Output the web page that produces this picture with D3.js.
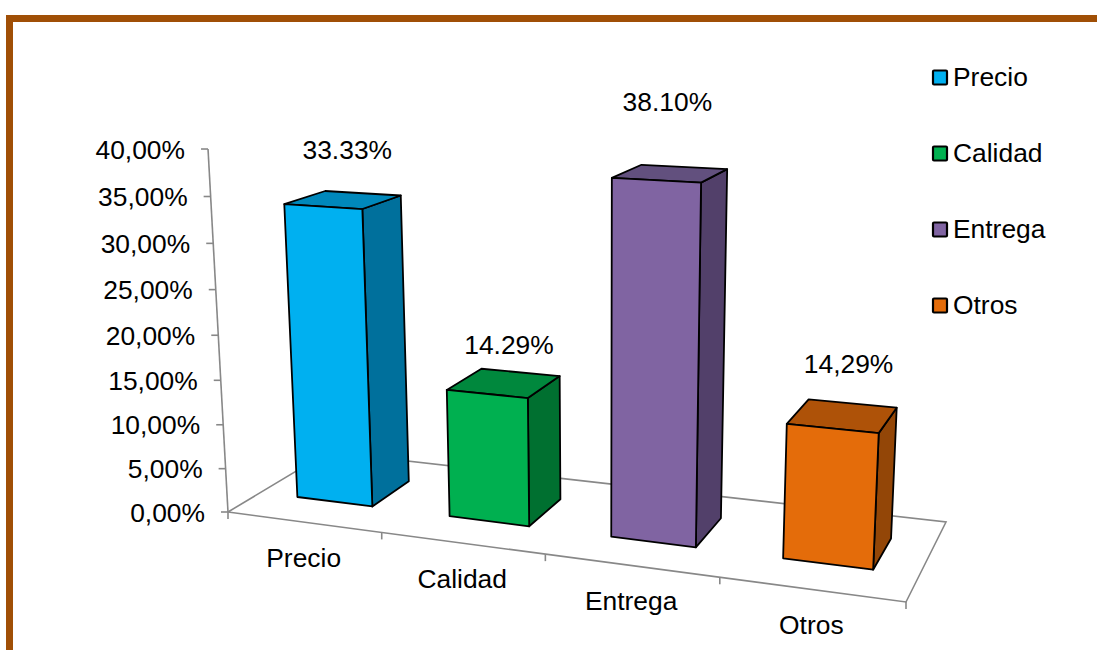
<!DOCTYPE html>
<html><head><meta charset="utf-8">
<script src="https://cdnjs.cloudflare.com/ajax/libs/d3/7.8.5/d3.min.js"></script>
<style>html,body{margin:0;padding:0;background:#fff}svg{display:block}text{font-family:"Liberation Sans",Arial,sans-serif;font-size:26.4px;fill:#000}</style>
</head><body><svg id="c" width="1097" height="650"></svg>
<script>
const categories = ["Precio","Calidad","Entrega","Otros"];
const values = [33.33,14.29,38.10,14.29];
const valueLabels = ["33.33%","14.29%","38.10%","14,29%"];
const yTicks = [0,5,10,15,20,25,30,35,40];
const yTickLabels = ["0,00%","5,00%","10,00%","15,00%","20,00%","25,00%","30,00%","35,00%","40,00%"];
const frontColors = ["#00B0F0","#00B050","#8064A2","#E46C0A"];
const sideColors = ["#00709C","#007030","#52406A","#934607"];
const topColors = ["#0088BB","#00883D","#62507E","#AE5208"];

// layout
const corners = [[228,512],[906,602],[946,522],[328,452]];
const vanish = [600,7272];
const depthRange = [0.305,0.705];
const labelNudge = [[4,-50],[5,-38],[-3,-71],[6,-52]];
const legendY = [77,153,229,305];

const svg = d3.select("#c");
const [p0,p1,p2,p3] = corners;
const dx1=p1[0]-p2[0],dx2=p3[0]-p2[0],sx=p0[0]-p1[0]+p2[0]-p3[0];
const dy1=p1[1]-p2[1],dy2=p3[1]-p2[1],sy=p0[1]-p1[1]+p2[1]-p3[1];
const den=dx1*dy2-dx2*dy1;
const g=(sx*dy2-dx2*sy)/den,h=(dx1*sy-sx*dy1)/den;
const a=p1[0]-p0[0]+g*p1[0],b=p3[0]-p0[0]+h*p3[0],c=p0[0];
const d=p1[1]-p0[1]+g*p1[1],e=p3[1]-p0[1]+h*p3[1],f=p0[1];

const xBand = d3.scaleBand().domain(categories).range([0,1]).paddingInner(0.5).paddingOuter(0.25);
const xOuter = d3.scaleBand().domain(categories).range([0,1]);
const yScale = d3.scaleLinear().domain([0,40]).range([0,-0.05096]);
const zScale = d3.scaleLinear().domain([0,1]).range(depthRange);

function project(u0,v,val){
  const u=u0+0.042*u0*(1-u0);
  const t=yScale(val)*(1-0.03*u);
  const W=g*u+h*v+1+t;
  return [(a*u+b*v+c+t*vanish[0])/W,(d*u+e*v+f+t*vanish[1])/W];
}
const line=d3.line();

// frame
svg.append("path").attr("d","M9.5,650V18.5H1097").attr("fill","none").attr("stroke","#A04F06").attr("stroke-width",7);

// axes + floor
const axis=svg.append("g").attr("fill","none").attr("stroke","#888").attr("stroke-width",1.6);
axis.append("path").attr("d",line([project(0,0,0),project(0,0,40)]));
axis.append("path").attr("d",line([project(0,0,0),project(1,0,0),project(1,1,0),project(0,1,0),project(0,0,0)]));
yTicks.forEach(v=>{const q=project(0,0,v);axis.append("path").attr("d",line([q,[q[0]-7,q[1]]]));});
d3.range(0,5).forEach(i=>{const u=i/4;const q=project(u,0,0);axis.append("path").attr("d",line([q,[q[0],q[1]+7]]));});

yTicks.forEach((v,i)=>{const q=project(0,0,v);
  svg.append("text").attr("x",q[0]-23).attr("y",q[1]+9.5).attr("text-anchor","end").text(yTickLabels[i]);});
categories.forEach(cat=>{const q=project(xOuter(cat)+xOuter.bandwidth()/2,0,0);
  svg.append("text").attr("x",q[0]).attr("y",q[1]+44.5).attr("text-anchor","middle").text(cat);});

// bars
categories.forEach((cat,i)=>{
  const u0=xBand(cat),u1=u0+xBand.bandwidth(),v0=zScale(0),v1=zScale(1),val=values[i];
  const gb=svg.append("g").attr("stroke","#000").attr("stroke-width",1.8).attr("stroke-linejoin","round");
  gb.append("path").attr("fill",sideColors[i]).attr("d",line([project(u1,v0,0),project(u1,v1,0),project(u1,v1,val),project(u1,v0,val)])+"Z");
  gb.append("path").attr("fill",topColors[i]).attr("d",line([project(u0,v0,val),project(u1,v0,val),project(u1,v1,val),project(u0,v1,val)])+"Z");
  gb.append("path").attr("fill",frontColors[i]).attr("d",line([project(u0,v0,0),project(u1,v0,0),project(u1,v0,val),project(u0,v0,val)])+"Z");
  const tc=project((u0+u1)/2,(v0+v1)/2,val);
  svg.append("text").attr("x",tc[0]+labelNudge[i][0]).attr("y",tc[1]+labelNudge[i][1]+9).attr("text-anchor","middle").text(valueLabels[i]);
});

// legend
categories.forEach((cat,i)=>{
  svg.append("rect").attr("x",933).attr("y",legendY[i]-6.5).attr("width",14).attr("height",14).attr("rx",1).attr("fill",frontColors[i]).attr("stroke","#000").attr("stroke-width",2.2);
  svg.append("text").attr("x",953).attr("y",legendY[i]+9).text(cat);
});
</script></body></html>
